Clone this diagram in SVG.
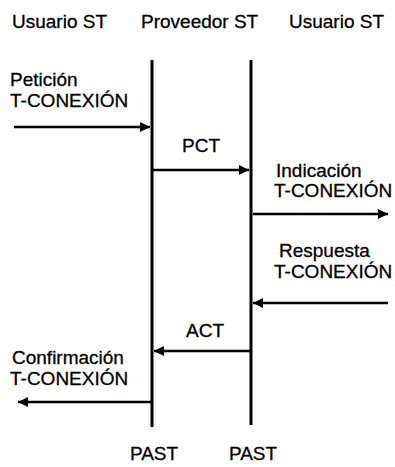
<svg xmlns="http://www.w3.org/2000/svg" width="395" height="467" viewBox="0 0 395 467">
<style>
text{font-family:"Liberation Sans",Arial,sans-serif;font-size:19px;fill:#000;stroke:#000;stroke-width:0.3}
.m{text-anchor:middle}
.life{stroke:#000;stroke-width:3;fill:none}
.msg{stroke:#000;stroke-width:2.4;fill:none}
</style>
<defs>
<marker id="ah" viewBox="0 0 10 10" refX="10" refY="5" markerWidth="12" markerHeight="10" markerUnits="userSpaceOnUse" orient="auto">
<path d="M0,0 L10,5 L0,10 Z" fill="#000"/>
</marker>
</defs>
<rect width="395" height="467" fill="#fff"/>
<g id="user1"><text x="12" y="28">Usuario ST</text></g>
<g id="provider"><text x="141" y="28">Proveedor ST</text></g>
<g id="user2"><text x="289" y="28">Usuario ST</text></g>
<g id="past1"><line class="life" x1="152" y1="60" x2="152" y2="427"/><text class="m" x="154" y="460">PAST</text></g>
<g id="past2"><line class="life" x1="251" y1="60" x2="251" y2="425"/><text class="m" x="253" y="460">PAST</text></g>
<g id="labels">
<text x="10" y="86">Petición</text><text x="10" y="107">T-CONEXIÓN</text>
<text class="m" x="201" y="152">PCT</text>
<text x="276" y="177">Indicación</text><text x="274" y="197">T-CONEXIÓN</text>
<text x="279" y="257">Respuesta</text><text x="274" y="278">T-CONEXIÓN</text>
<text class="m" x="205" y="337">ACT</text>
<text x="12" y="364">Confirmación</text><text x="10" y="385">T-CONEXIÓN</text>
</g>
<g id="connectors">
<line class="msg" x1="14" y1="127" x2="150" y2="127" marker-end="url(#ah)"/>
<line class="msg" x1="153" y1="170" x2="249" y2="170" marker-end="url(#ah)"/>
<line class="msg" x1="253" y1="214" x2="388" y2="214" marker-end="url(#ah)"/>
<line class="msg" x1="388" y1="303" x2="253" y2="303" marker-end="url(#ah)"/>
<line class="msg" x1="250" y1="351" x2="154" y2="351" marker-end="url(#ah)"/>
<line class="msg" x1="151" y1="402" x2="18" y2="402" marker-end="url(#ah)"/>
</g>
</svg>
